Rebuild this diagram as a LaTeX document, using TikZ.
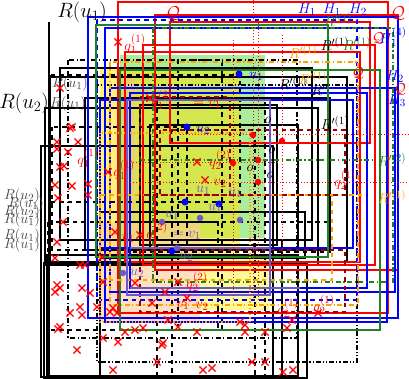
\documentclass[tikz,border=0pt]{standalone}
\usetikzlibrary{shapes.misc}
\definecolor{dgreen}{RGB}{34,130,34}
\definecolor{orng}{RGB}{255,165,0}
\definecolor{dred}{RGB}{150,0,0}
\definecolor{slate}{RGB}{106,90,205}
\definecolor{lgreen}{RGB}{170,238,155}
\definecolor{gtxt}{RGB}{70,70,70}
\begin{document}
\begin{tikzpicture}[x=1pt,y=-1pt,
  dsh/.style={dash pattern=on 4.5pt off 4pt},
  bk/.style={draw=black,line width=1.3pt},
  bkd/.style={draw=black,line width=1.4pt,dsh},
  bkdd/.style={draw=black,line width=1.2pt,dash pattern=on 5pt off 2.5pt on 1.2pt off 2.5pt},
  bkddd/.style={draw=black,line width=1.2pt,dash pattern=on 5pt off 2pt on 1.2pt off 2pt on 1.2pt off 2pt},
  rd/.style={draw=red,line width=1.4pt},
  rdt/.style={draw=red,line width=1pt,dotted},
  bl/.style={draw=blue,line width=1.3pt},
  bld/.style={draw=blue,line width=1.5pt,dsh},
  gr/.style={draw=dgreen,line width=1.3pt},
  grdd/.style={draw=dgreen,line width=1.3pt,dash pattern=on 5pt off 2.5pt on 1.2pt off 2.5pt},
  orr/.style={draw=orng,line width=1.3pt,dash pattern=on 5pt off 2.5pt on 1.2pt off 2.5pt},
  ord/.style={draw=orng,line width=1.3pt,dsh},
  ordt/.style={draw=orng,line width=1.2pt,dotted},
  drd/.style={draw=dred,line width=1.3pt,dsh},
  sl/.style={draw=slate,line width=1.1pt},
  xm/.style={cross out,draw=red,line width=1.2pt,minimum size=6pt,inner sep=0pt},
  bdot/.style={circle,fill=blue,inner sep=0pt,minimum size=7pt},
  sdot/.style={circle,fill=slate,inner sep=0pt,minimum size=6.5pt},
  rdot/.style={circle,fill=red,inner sep=0pt,minimum size=6.5pt},
  lab/.style={inner sep=0pt,font=\fontsize{15}{15}\selectfont},
  big/.style={inner sep=0pt,font=\fontsize{21}{21}\selectfont}]
\useasboundingbox (0,0) rectangle (409,379);
\clip (0,0) rectangle (409,379);
% fills
\fill[lgreen] (120,55) rectangle (265,238);
\fill[yellow!85!orange,opacity=.5] (100,68) rectangle (240,258);
\fill[orange!40,opacity=.6] (100,222) rectangle (200,322);
\fill[yellow!40] (200,258) rectangle (270,310);
\fill[orange!50,opacity=.5] (117,75) rectangle (135,222);
% black solid
\draw[bk] (49,22) -- (49,379);
\draw[bk] (50,77) rectangle (347,262);
\draw[bk] (45,108) rectangle (318,265);
\draw[bk] (41,146) rectangle (273,377);
\draw[bk] (47,255) rectangle (298,376);
\draw[bk] (44,263) rectangle (307,378);
\draw[bk] (85,98) rectangle (330,250);
\draw[bk] (100,212) rectangle (305,258);
\draw[bk] (60,68) rectangle (312,240);
\draw[bk] (140,105) rectangle (277,245);
\draw[bk] (150,125) rectangle (298,248);
\draw[bk] (100,240) rectangle (282,377);
% black dashed
\draw[bkd] (50,75) rectangle (240,202);
\draw[bkd] (52,127) rectangle (187,250);
\draw[bkd] (48,222) rectangle (218,330);
\draw[bkd] (157,100) rectangle (265,385);
\draw[bkd] (172,130) rectangle (255,385);
\draw[bkd] (178,60) rectangle (222,330);
\draw[bkd] (120,222) rectangle (330,252);
% dash dot
\draw[bkdd] (68,60) rectangle (297,338);
\draw[bkddd] (97,85) rectangle (357,362);
% red
\draw[rd] (118,2) rectangle (388,313);
\draw[rd] (155,15) rectangle (398,270);
\draw[rd] (143,45) rectangle (375,265);
\draw[rd] (125,52) rectangle (360,262);
\draw[rd,line width=1.8pt] (170,22) rectangle (370,143);
% blue
\draw[bl] (88,17) rectangle (398,318);
\draw[bl,line width=2pt] (105,28) rectangle (387,322);
\draw[bl] (110,88) rectangle (395,292);
\draw[bl] (130,93) rectangle (367,288);
\draw[bl] (100,100) rectangle (353,248);
\draw[bld] (97,20) rectangle (357,300);
% green
\draw[gr] (96,25) rectangle (328,257);
\draw[gr] (120,70) rectangle (380,330);
\draw[grdd] (153,28) rectangle (393,282);
\draw[grdd] (140,160) -- (375,160);
% orange
\draw[orr] (110,62) rectangle (358,305);
\draw[ord] (100,195) rectangle (332,280);
\draw[ord] (332,195) -- (365,195);
\draw[ordt] (100,133) rectangle (250,322);
% dark red dashed
\draw[drd] (140,97) rectangle (230,195);
\draw[drd] (160,130) rectangle (345,195);
\draw[drd] (140,250) rectangle (345,312);
% slate
\draw[sl] (127,100) rectangle (270,295);
\draw[sl] (130,248) -- (270,248);
\draw[sl] (130,288) -- (300,288);
% red dotted
\draw[rdt] (233,40) -- (233,300);
\draw[rdt] (253,0) -- (253,300);
\draw[rdt] (258,20) -- (258,300);
\draw[rdt] (282,35) -- (282,270);
\draw[rdt] (180,135) -- (409,135);
\draw[rdt] (130,183) -- (409,183);
\draw[rdt] (130,163) -- (280,163);
% crosses
\foreach \a/\b [count=\i] in {60/88,72/127,57/142,78/142,57/149,68/152,60/167,64/166,55/185,72/186,58/198,88/184,63/222,115/232,57/242,88/195,55/258,80/265,85/265,102/257,57/285,60/288,55/292,82/288,90/293,80/307,82/315,70/313,60/327,58/329,77/350,113/370,97/307,103/282,110/312,113/308,117/313,118/342,103/338,125/332,135/283,118/42,150/98,197/162,205/180,140/235,108/172,162/345,163/343,157/362,203/370,212/368,168/320,178/327,197/332,143/328,135/330,187/298,152/303,165/292,178/282,283/372,293/370,292/320,287/328,318/313,240/322,245/325,245/332,252/362,265/362,265/332,70/128}
  \node[xm] (x\i) at (\a,\b) {};
% dots
\foreach \a/\b [count=\i] in {239/74,187/127,185/202,219/204,172/251}
  \node[bdot] (b\i) at (\a,\b) {};
\foreach \a/\b [count=\i] in {200/218,162/222,240/220,177/248,123/273}
  \node[sdot] (s\i) at (\a,\b) {};
\foreach \a/\b [count=\i] in {253/135,282/141,258/160,258/182,233/163}
  \node[rdot] (r\i) at (\a,\b) {};
% big labels
\node[big] (L1) at (82,12) {$R(u_1)$};
\node[big] (L2) at (24,103) {$R(u_2)$};
% gray R labels
\node[lab,gtxt] (g1) at (70,84) {$R(u_1)$};
\node[lab,gtxt] (g2) at (68,104) {$R(u_1)$};
\node[lab,gtxt] (g3) at (22,196) {$R(u_2)$};
\node[lab,gtxt] (g4) at (26,204) {$R(u_1)$};
\node[lab,gtxt] (g5) at (22,212) {$R(u_2)$};
\node[lab,gtxt] (g6) at (22,220) {$R(u_1)$};
\node[lab,gtxt] (g7) at (22,236) {$R(u_1)$};
\node[lab,gtxt] (g8) at (22,245) {$R(u_1)$};
% red Q labels
\node[big,red,font=\fontsize{18}{18}\selectfont] (q1) at (173,13) {$\mathcal{Q}$};
\node[big,red,font=\fontsize{18}{18}\selectfont] (q2) at (398,13) {$\mathcal{Q}$};
\node[lab,red] (q3) at (358,73) {$\mathcal{Q}$};
\node[lab,red] (q4) at (400,89) {$\mathcal{Q}$};
\node[lab,red] (q5) at (378,38) {$\mathcal{Q}$};
% red labels
\node[lab,red] (t1) at (135,44) {$q_1^{(1)}$};
\node[lab,red] (t2) at (162,100) {$q_1^{(2)}$};
\node[lab,red] (t3) at (207,104) {$=v_1$};
\node[lab,red] (t4) at (220,160) {$q_2^{(2)}$};
\node[lab,red] (t5) at (220,183) {$v_2$};
\node[lab,red] (t6) at (88,158) {$q_1^{(1)}$};
\node[lab,red] (t7) at (124,170) {$q_1^{(1)}$};
\node[lab,red] (t8) at (128,238) {$v_1$};
\node[lab,red] (t9) at (157,232) {$q_1^{(2)}$};
\node[lab,red] (t10) at (197,282) {$q_2^{(2)}$};
\node[lab,red] (t11) at (183,305) {$v_1$};
\node[lab,red] (t12) at (202,306) {$v_2$};
\node[lab,red] (t13) at (288,308) {$q_2^{(1)}$};
\node[lab,red] (t14) at (324,305) {$q_2^{(1)}$};
\node[lab,red] (t15) at (345,180) {$q_2^{(1)}$};
% blue labels
\node[lab,blue] (u1) at (256,76) {$u_1$};
\node[lab,blue] (u2) at (203,130) {$u_2$};
\node[lab,blue] (h1) at (307,10) {$H_1$};
\node[lab,blue] (h2) at (332,10) {$H_1$};
\node[lab,blue] (h3) at (358,10) {$H_2$};
\node[lab,blue] (h4) at (395,77) {$H_2$};
\node[lab,blue] (h5) at (397,101) {$H_3$};
\node[lab,blue] (h6) at (393,37) {$H_1^{(4)}$};
% slate labels
\node[lab,slate] (v1) at (203,190) {$u_1$};
\node[lab,slate] (v2) at (235,193) {$u_1$};
\node[lab,slate] (v3) at (215,208) {$u_1$};
\node[lab,slate] (v4) at (172,215) {$u_1$};
\node[lab,slate] (v5) at (187,235) {$=v_1$};
\node[lab,slate] (v6) at (137,273) {$u_2$};
\node[lab,slate] (v7) at (186,257) {$u_2$};
% black o and R'
\node[lab] (o1) at (268,120) {$o$};
\node[lab] (o2) at (272,150) {$o$};
\node[lab] (o3) at (250,168) {$o$};
\node[lab] (o4) at (270,175) {$o$};
\node[lab] (p1) at (293,83) {$R'^{(1)}$};
\node[lab] (p2) at (335,44) {$R'^{(1)}$};
\node[lab] (p3) at (335,123) {$R'^{(1)}$};
\node[lab] (p4) at (320,90) {$R''$};
% orange
\node[lab,orng] (c1) at (303,52) {$R'^{(1)}$};
\node[lab,orng] (c2) at (313,78) {$R'^{(1)}$};
\node[lab,orng] (c3) at (392,197) {$R'^{(1)}$};
% green
\node[lab,dgreen] (e1) at (357,44) {$R'^{(1)}$};
\node[lab,dgreen] (e2) at (338,20) {$R'^{(1)}$};
\node[lab,dgreen] (e3) at (392,160) {$R'^{(2)}$};
\end{tikzpicture}
\end{document}
